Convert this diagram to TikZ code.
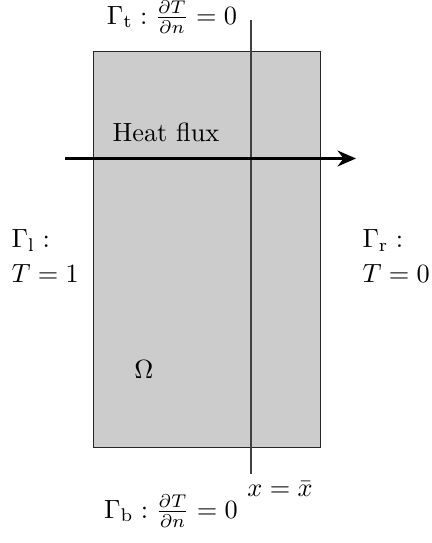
\documentclass[tikz,border=0pt]{standalone}
\usetikzlibrary{arrows.meta}
\begin{document}
\begin{tikzpicture}[x=0.38pt,y=-0.38pt,
  lbl/.style={inner sep=0pt,align=left},
  regionbox/.style={draw=black!85,fill=black!20,line width=0.4pt},
  cutline/.style={draw=black!75,line width=0.4pt},
  fluxarrow/.style={line width=1.1pt,-{Stealth[length=7pt,width=6pt]}}]
\useasboundingbox (0,0) rectangle (431,543);
\path[regionbox] (93.5,51.5) rectangle (320.5,447.5);
\coordinate (ltop) at (251,20);
\coordinate (lbot) at (251,474);
\draw[cutline] (ltop) -- (lbot);
\coordinate (fs) at (65,158.5);
\coordinate (fe) at (356,158.5);
\draw[fluxarrow] (fs) -- (fe);
\node[lbl] (heat) at (166,132) {Heat flux};
\node[lbl] (omega) at (144,370) {$\Omega$};
\node[lbl,anchor=west] (gl) at (11,256) {$\Gamma_{\rm l}:$\\[1pt]$T=1$};
\node[lbl,anchor=west] (gr) at (362,256) {$\Gamma_{\rm r}:$\\[1pt]$T=0$};
\node[lbl] (gt) at (172,17) {$\Gamma_{\rm t}:\frac{\partial T}{\partial n}=0$};
\node[lbl] (gb) at (171,511) {$\Gamma_{\rm b}:\frac{\partial T}{\partial n}=0$};
\node[lbl] (xb) at (280,489) {$x=\bar{x}$};
\end{tikzpicture}
\end{document}
